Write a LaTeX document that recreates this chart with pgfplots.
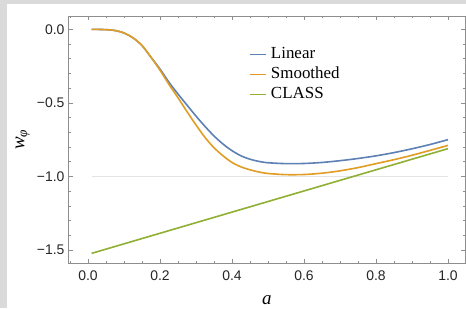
\documentclass[border=0pt]{standalone}
\usepackage{fontspec}
\setmainfont{Liberation Serif}
\setsansfont{Liberation Sans}
\usepackage{pgfplots}
\pgfplotsset{compat=1.18}
\definecolor{mblue}{HTML}{5E81B5}
\definecolor{morange}{HTML}{E19C24}
\definecolor{mgreen}{HTML}{8FB032}
\definecolor{mframe}{HTML}{8E8E8E}
\definecolor{mbg}{HTML}{DADADA}
\definecolor{mgrid}{HTML}{E4E4E4}
\begin{document}
\begin{tikzpicture}[x=1bp,y=1bp]
\path[use as bounding box, fill=mbg] (0,0) rectangle (466,308);
\fill[white] (7,0) rectangle (466,304);
\begin{axis}[
  at={(68bp,45bp)}, anchor=south west,
  scale only axis, width=397.5bp, height=247bp,
  xmin=-0.0556, xmax=1.0486, ymin=-1.5886, ymax=0.0907,
  axis line style={mframe, line width=0.6bp},
  every tick/.style={mframe, line width=0.6bp},
  tick align=inside,
  major tick length=4.5bp, minor tick length=2.5bp,
  xtick={0,0.2,0.4,0.6,0.8,1.0},
  xticklabels={0.0,0.2,0.4,0.6,0.8,1.0},
  minor xtick={-0.05,0.05,0.1,0.15,0.25,0.3,0.35,0.45,0.5,0.55,0.65,0.7,0.75,0.85,0.9,0.95},
  ytick={-1.5,-1,-0.5,0},
  yticklabels={−1.5,−1.0,−0.5,0.0},
  minor ytick={-1.4,-1.3,-1.2,-1.1,-0.9,-0.8,-0.7,-0.6,-0.4,-0.3,-0.2,-0.1},
  ticklabel style={font=\fontsize{14}{16}\selectfont\sffamily, text=black!85},
  xticklabel style={yshift=-4bp},
  xlabel={\textit{a}},
  xlabel style={font=\fontsize{19}{22}\selectfont, at={(axis description cs:0.5,-0.166)}, anchor=base},
  ylabel={\textit{w}\textsubscript{\textit{φ}}},
  ylabel style={font=\fontsize{19}{22}\selectfont, at={(axis description cs:-0.11,0.5)}, anchor=base},
  legend style={draw=none, fill=none, font=\fontsize{17}{20}\selectfont,
    at={(axis description cs:0.457,0.763)}, anchor=west, inner sep=0pt,
    nodes={inner sep=0pt, text height=14bp, text depth=5.7bp},
    /tikz/every odd column/.append style={column sep=4bp}},
  legend image code/.code={\draw[#1, line width=1.1bp] (0bp,0bp) -- (16bp,0bp);},
  legend cell align=left,
]
\addplot[mgrid, line width=0.8bp, forget plot] coordinates {(0.01,-1) (1,-1)};
\addplot[mblue, line width=1.6bp, smooth] coordinates {
(0.01,0) (0.05,-0.002) (0.075,-0.008) (0.1,-0.025) (0.125,-0.058) (0.15,-0.11)
(0.175,-0.19) (0.2,-0.27) (0.225,-0.36) (0.25,-0.44) (0.275,-0.515) (0.3,-0.59)
(0.325,-0.66) (0.35,-0.725) (0.375,-0.78) (0.4,-0.825) (0.425,-0.86) (0.45,-0.883)
(0.475,-0.898) (0.5,-0.907) (0.55,-0.913) (0.6,-0.912) (0.65,-0.905) (0.7,-0.893)
(0.75,-0.878) (0.8,-0.86) (0.85,-0.838) (0.9,-0.812) (0.95,-0.783) (1.0,-0.75)};
\addlegendentry{Linear}
\addplot[morange, line width=1.6bp, smooth] coordinates {
(0.01,0) (0.05,-0.002) (0.075,-0.008) (0.1,-0.025) (0.125,-0.058) (0.15,-0.11)
(0.175,-0.19) (0.2,-0.278) (0.225,-0.375) (0.25,-0.465) (0.275,-0.56) (0.3,-0.65)
(0.325,-0.735) (0.35,-0.805) (0.375,-0.86) (0.4,-0.905) (0.425,-0.935) (0.45,-0.955)
(0.475,-0.97) (0.5,-0.98) (0.55,-0.988) (0.6,-0.987) (0.65,-0.978) (0.7,-0.962)
(0.75,-0.94) (0.8,-0.913) (0.85,-0.886) (0.9,-0.856) (0.95,-0.823) (1.0,-0.789)};
\addlegendentry{Smoothed}
\addplot[mgreen, line width=1.6bp] coordinates {(0.01,-1.523) (1.0,-0.811)};
\addlegendentry{CLASS}
\end{axis}
\end{tikzpicture}
\end{document}
